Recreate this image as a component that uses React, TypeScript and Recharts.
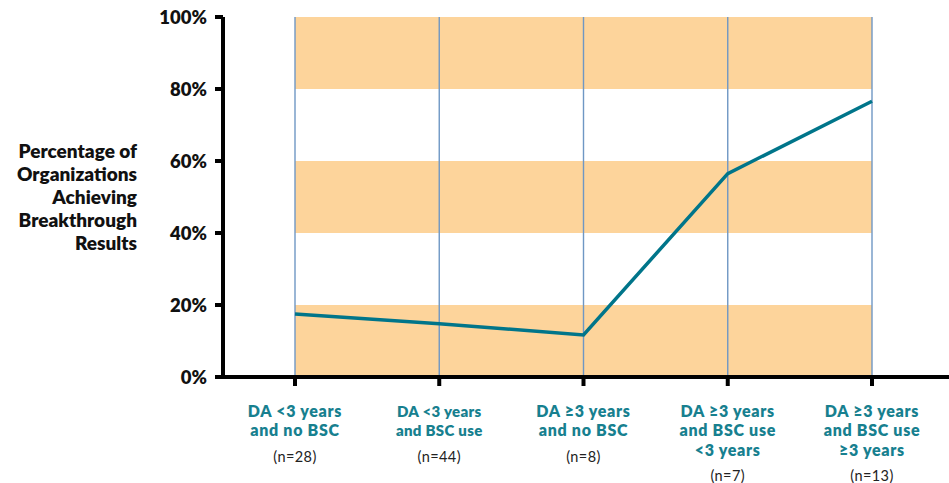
import React from 'react'
import {
  LineChart,
  Line,
  XAxis,
  YAxis,
  ReferenceArea,
  ReferenceLine,
  Label
} from 'recharts'

// breakthrough share by decision-analysis / balanced-scorecard group
const GROUPS = ['g1', 'g2', 'g3', 'g4', 'g5']
const GROUP_LINES = [
  ['DA <3 years', 'and no BSC'],
  ['DA <3 years', 'and BSC use'],
  ['DA \u22653 years', 'and no BSC'],
  ['DA \u22653 years', 'and BSC use', '<3 years'],
  ['DA  \u22653 years', 'and BSC use', '\u22653 years']
]
const GROUP_N = ['(n=28)', '(n=44)', '(n=8)', '(n=7)', '(n=13)']
const SHARE = [17.5, 14.8, 11.7, 56.5, 76.6]
const Y_TICKS = [0, 20, 40, 60, 80, 100]
const BANDS = [[0, 20], [40, 60], [80, 100]]
const Y_TITLE = ['Percentage of', 'Organizations', 'Achieving', 'Breakthrough', 'Results']

const data = GROUPS.map((g, i) => ({ group: g, share: SHARE[i] }))

const FONT = 'Lato, "Open Sans", sans-serif'
const TEAL_TEXT = '#17808f'
const TEAL_LINE = '#00758a'
const BAND = '#fdd49b'
const GUIDE = '#6f97c4'
const ROW = 19.3

const GroupTick = (props: any) => {
  const { x, y, payload } = props
  const i = GROUPS.indexOf(payload.value)
  const lines = GROUP_LINES[i] || []
  const size = i === 1 ? 15 : 16
  return (
    <g>
      {lines.map((t, k) => (
        <text
          key={k}
          x={x}
          y={y + 29 + k * ROW}
          textAnchor="middle"
          fontFamily={FONT}
          fontWeight={800}
          fontSize={size}
          letterSpacing={i === 1 ? 0.3 : 0.7}
          fill={TEAL_TEXT}
        >
          {t}
        </text>
      ))}
      <text
        x={x}
        y={y + 35 + lines.length * ROW}
        textAnchor="middle"
        fontFamily={FONT}
        fontSize={14.5}
        letterSpacing={0.4}
        fill="#222"
      >
        {GROUP_N[i]}
      </text>
    </g>
  )
}

const YTitle = () => (
  <text textAnchor="end" fontFamily={FONT} fontWeight={800} fontSize={19} fill="#111">
    {Y_TITLE.map((t, k) => (
      <tspan key={k} x={137} y={158 + k * 23}>
        {t}
      </tspan>
    ))}
  </text>
)

export default function App() {
  return (
    <div style={{ position: 'absolute', left: 0, top: 0, background: '#fff' }}>
      <LineChart
        width={949}
        height={483}
        data={data}
        margin={{ top: 17, right: 0, bottom: 0, left: 0 }}
      >
        <XAxis
          dataKey="group"
          padding={{ left: 72, right: 77 }}
          height={106}
          axisLine={{ stroke: '#000', strokeWidth: 4 }}
          tickLine={{ stroke: '#000', strokeWidth: 4 }}
          tickSize={9}
          tick={<GroupTick />}
          interval={0}
        />
        <YAxis
          domain={[0, 100]}
          ticks={Y_TICKS}
          width={223}
          tickFormatter={(v) => `${v}%`}
          axisLine={{ stroke: '#000', strokeWidth: 4 }}
          tickLine={{ stroke: '#000', strokeWidth: 4 }}
          tickSize={8}
          tickMargin={8}
          tick={{ fontFamily: FONT, fontWeight: 800, fontSize: 18.5, fill: '#111' }}
        >
          <Label content={<YTitle />} />
        </YAxis>
        {BANDS.map(([a, b]) => (
          <ReferenceArea
            key={a}
            y1={a}
            y2={b}
            fill={BAND}
            fillOpacity={1}
            stroke="none"
            ifOverflow="visible"
          />
        ))}
        {GROUPS.map((g) => (
          <ReferenceLine key={g} x={g} stroke={GUIDE} strokeWidth={1.4} />
        ))}
        <Line
          type="linear"
          dataKey="share"
          stroke={TEAL_LINE}
          strokeWidth={3.5}
          dot={false}
          activeDot={false}
          isAnimationActive={false}
        />
      </LineChart>
    </div>
  )
}
